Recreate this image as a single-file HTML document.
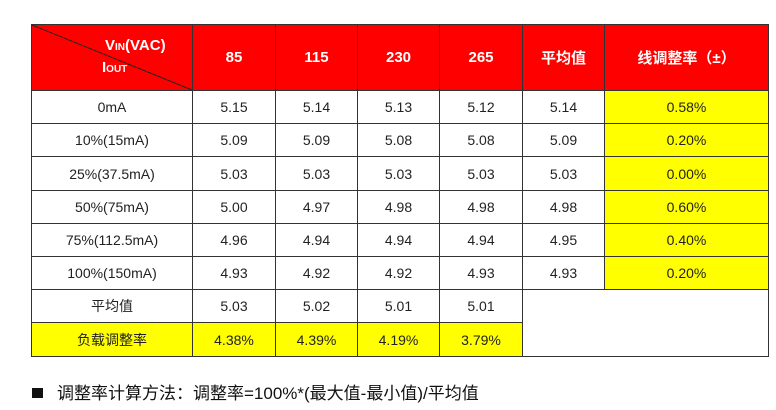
<!DOCTYPE html>
<html><head><meta charset="utf-8"><style>
body{margin:0;width:776px;height:410px;background:#fff;position:relative;overflow:hidden;font-family:"Liberation Sans","Noto Sans CJK SC",sans-serif;}
.c{position:absolute;box-sizing:border-box;border:1px solid #333;display:flex;align-items:center;justify-content:center;font-size:14px;color:#222;margin:-1px 0 0 -1px;}
.h{background:#ff0000;color:#fff;font-weight:bold;font-size:15px;}
.y{background:#ffff00;}
</style></head><body>
<div class="c h" style="left:32px;top:25px;width:162px;height:67px;display:block;">
<svg width="160" height="65" style="position:absolute;left:0;top:0"><line x1="0" y1="0" x2="160" y2="65" stroke="#222" stroke-width="1"/></svg>
<div style="position:absolute;left:73px;top:12px;font-size:15px;">V<span style="font-size:10px">IN</span>(VAC)</div>
<div style="position:absolute;left:70px;top:34px;font-size:15px;">I<span style="font-size:10px">OUT</span></div>
</div>
<div class="c h" style="left:193px;top:25px;width:84px;height:67px;">85</div>
<div class="c h" style="left:276px;top:25px;width:83px;height:67px;">115</div>
<div class="c h" style="left:358px;top:25px;width:83px;height:67px;">230</div>
<div class="c h" style="left:440px;top:25px;width:84px;height:67px;">265</div>
<div class="c h" style="left:523px;top:25px;width:83px;height:67px;">平均值</div>
<div class="c h" style="left:605px;top:25px;width:165px;height:67px;">线调整率（±）</div>

<div class="c" style="left:32px;top:91px;width:162px;height:34px;">0mA</div>
<div class="c" style="left:193px;top:91px;width:84px;height:34px;">5.15</div>
<div class="c" style="left:276px;top:91px;width:83px;height:34px;">5.14</div>
<div class="c" style="left:358px;top:91px;width:83px;height:34px;">5.13</div>
<div class="c" style="left:440px;top:91px;width:84px;height:34px;">5.12</div>
<div class="c" style="left:523px;top:91px;width:83px;height:34px;">5.14</div>
<div class="c y" style="left:605px;top:91px;width:165px;height:34px;">0.58%</div>

<div class="c" style="left:32px;top:124px;width:162px;height:34px;">10%(15mA)</div>
<div class="c" style="left:193px;top:124px;width:84px;height:34px;">5.09</div>
<div class="c" style="left:276px;top:124px;width:83px;height:34px;">5.09</div>
<div class="c" style="left:358px;top:124px;width:83px;height:34px;">5.08</div>
<div class="c" style="left:440px;top:124px;width:84px;height:34px;">5.08</div>
<div class="c" style="left:523px;top:124px;width:83px;height:34px;">5.09</div>
<div class="c y" style="left:605px;top:124px;width:165px;height:34px;">0.20%</div>

<div class="c" style="left:32px;top:157px;width:162px;height:35px;">25%(37.5mA)</div>
<div class="c" style="left:193px;top:157px;width:84px;height:35px;">5.03</div>
<div class="c" style="left:276px;top:157px;width:83px;height:35px;">5.03</div>
<div class="c" style="left:358px;top:157px;width:83px;height:35px;">5.03</div>
<div class="c" style="left:440px;top:157px;width:84px;height:35px;">5.03</div>
<div class="c" style="left:523px;top:157px;width:83px;height:35px;">5.03</div>
<div class="c y" style="left:605px;top:157px;width:165px;height:35px;">0.00%</div>

<div class="c" style="left:32px;top:191px;width:162px;height:34px;">50%(75mA)</div>
<div class="c" style="left:193px;top:191px;width:84px;height:34px;">5.00</div>
<div class="c" style="left:276px;top:191px;width:83px;height:34px;">4.97</div>
<div class="c" style="left:358px;top:191px;width:83px;height:34px;">4.98</div>
<div class="c" style="left:440px;top:191px;width:84px;height:34px;">4.98</div>
<div class="c" style="left:523px;top:191px;width:83px;height:34px;">4.98</div>
<div class="c y" style="left:605px;top:191px;width:165px;height:34px;">0.60%</div>

<div class="c" style="left:32px;top:224px;width:162px;height:34px;">75%(112.5mA)</div>
<div class="c" style="left:193px;top:224px;width:84px;height:34px;">4.96</div>
<div class="c" style="left:276px;top:224px;width:83px;height:34px;">4.94</div>
<div class="c" style="left:358px;top:224px;width:83px;height:34px;">4.94</div>
<div class="c" style="left:440px;top:224px;width:84px;height:34px;">4.94</div>
<div class="c" style="left:523px;top:224px;width:83px;height:34px;">4.95</div>
<div class="c y" style="left:605px;top:224px;width:165px;height:34px;">0.40%</div>

<div class="c" style="left:32px;top:257px;width:162px;height:34px;">100%(150mA)</div>
<div class="c" style="left:193px;top:257px;width:84px;height:34px;">4.93</div>
<div class="c" style="left:276px;top:257px;width:83px;height:34px;">4.92</div>
<div class="c" style="left:358px;top:257px;width:83px;height:34px;">4.92</div>
<div class="c" style="left:440px;top:257px;width:84px;height:34px;">4.93</div>
<div class="c" style="left:523px;top:257px;width:83px;height:34px;">4.93</div>
<div class="c y" style="left:605px;top:257px;width:165px;height:34px;">0.20%</div>

<div class="c" style="left:32px;top:290px;width:162px;height:34px;">平均值</div>
<div class="c" style="left:193px;top:290px;width:84px;height:34px;">5.03</div>
<div class="c" style="left:276px;top:290px;width:83px;height:34px;">5.02</div>
<div class="c" style="left:358px;top:290px;width:83px;height:34px;">5.01</div>
<div class="c" style="left:440px;top:290px;width:84px;height:34px;">5.01</div>
<div class="c" style="left:523px;top:290px;width:247px;height:68px;"></div>

<div class="c y" style="left:32px;top:323px;width:162px;height:35px;">负载调整率</div>
<div class="c y" style="left:193px;top:323px;width:84px;height:35px;">4.38%</div>
<div class="c y" style="left:276px;top:323px;width:83px;height:35px;">4.39%</div>
<div class="c y" style="left:358px;top:323px;width:83px;height:35px;">4.19%</div>
<div class="c y" style="left:440px;top:323px;width:84px;height:35px;">3.79%</div>

<div style="position:absolute;left:32px;top:388px;width:11px;height:10px;background:#111;"></div>
<div style="position:absolute;left:57px;top:382px;font-size:17px;color:#111;white-space:nowrap;line-height:24px;">调整率计算方法：调整率=100%*(最大值-最小值)/平均值</div>
</body></html>
